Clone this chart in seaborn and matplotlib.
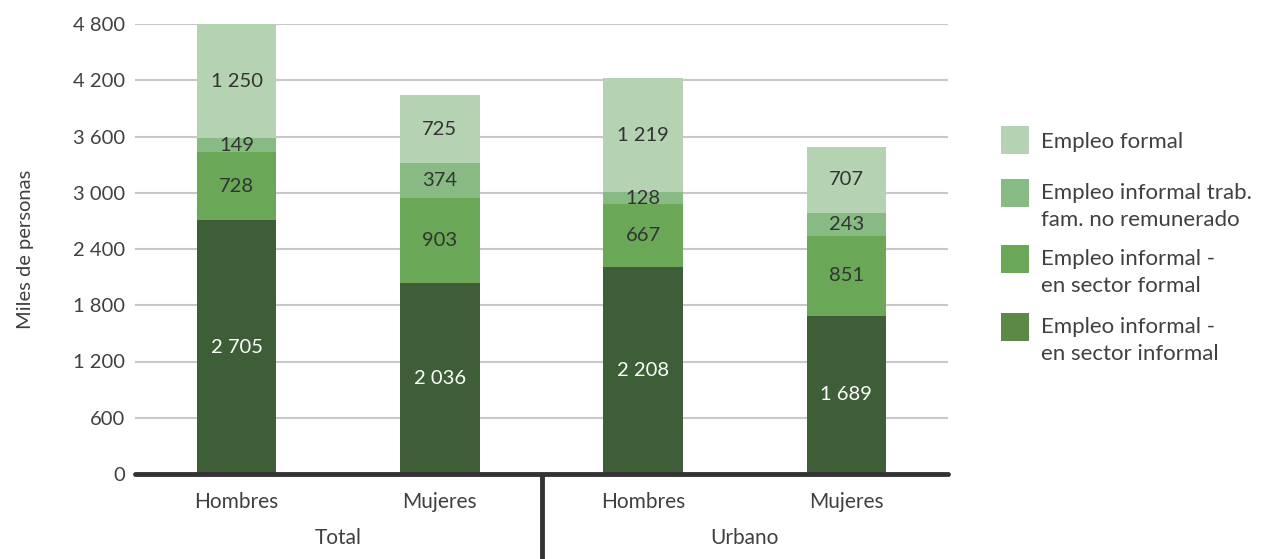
import matplotlib
matplotlib.use("Agg")
import matplotlib.pyplot as plt
from matplotlib.patches import Rectangle
import matplotlib.transforms as mtransforms
import numpy as np
import pandas as pd
import seaborn as sns

# Data (miles de personas)
categorias = ["Hombres", "Mujeres", "Hombres ", "Mujeres "]
ejes_x = ["Hombres", "Mujeres", "Hombres", "Mujeres"]
grupos = ["Total", "Urbano"]
informal_sector_informal = [2705, 2036, 2208, 1689]
informal_sector_formal = [728, 903, 667, 851]
informal_trab_fam = [149, 374, 128, 243]
empleo_formal = [1250, 725, 1219, 707]

series_nombres = [
    ["Empleo informal -", "en sector informal"],
    ["Empleo informal -", "en sector formal"],
    ["Empleo informal trab.", "fam. no remunerado"],
    ["Empleo formal"],
]
series_valores = [informal_sector_informal, informal_sector_formal,
                  informal_trab_fam, empleo_formal]
bar_colores = ["#3e5e38", "#6aa757", "#88bb84", "#b5d2b3"]
leyenda_colores = ["#5a8a46", "#6aa757", "#88bb84", "#b5d2b3"]
label_colores = ["white", "#333333", "#333333", "#333333"]

yticks = [0, 600, 1200, 1800, 2400, 3000, 3600, 4200, 4800]
ymax = 4800

sns.set_theme(style="white")
plt.rcParams["font.family"] = ["Lato", "DejaVu Sans"]
text_color = "#404040"
fs = 14.5

fig = plt.figure(figsize=(12.61, 5.59), dpi=100)
W, H = 1261, 559
ax = fig.add_axes([135 / W, (H - 474) / H, (948 - 135) / W, 450 / H])

# cumulative stacks, drawn from tallest to shortest
cum = np.cumsum(np.array(series_valores), axis=0)
df = pd.DataFrame({"cat": categorias})
for i in range(len(series_valores) - 1, -1, -1):
    df["v"] = cum[i]
    sns.barplot(data=df, x="cat", y="v", color=bar_colores[i], width=0.39,
                saturation=1, ax=ax, zorder=2, linewidth=0)

# segment labels
bottoms = np.vstack([np.zeros(4), cum[:-1]])
for i, vals in enumerate(series_valores):
    for j, v in enumerate(vals):
        lo = bottoms[i][j]
        hi = min(cum[i][j], ymax)
        yc = (lo + hi) / 2
        txt = f"{v:,}".replace(",", " ")
        ax.text(j, yc, txt, ha="center", va="center", fontsize=fs,
                color=label_colores[i], zorder=3)

ax.set_ylim(0, ymax)
ax.set_xlim(-0.5, 3.5)
ax.set_yticks(yticks)
ax.set_yticklabels([f"{t:,}".replace(",", " ") for t in yticks])
ax.set_xticks(range(4))
ax.set_xticklabels(ejes_x)
ax.tick_params(axis="both", length=0, labelsize=fs, colors=text_color)
ax.tick_params(axis="x", labelsize=fs + 0.5, pad=13)
ax.tick_params(axis="y", pad=7)
ax.set_xlabel("")
ax.set_ylabel("Miles de personas", fontsize=fs, color=text_color, labelpad=28)

ax.yaxis.grid(True, color="#c8c8c8", linewidth=1.5, zorder=0)
ax.set_axisbelow(True)
for s in ["top", "right", "left"]:
    ax.spines[s].set_visible(False)
ax.spines["bottom"].set_color("#333333")
ax.spines["bottom"].set_linewidth(3.5)
ax.spines["bottom"].set_zorder(4)
ax.spines["bottom"].set_capstyle("round")

# group separator and group labels
trans = mtransforms.blended_transform_factory(ax.transData, ax.transAxes)
ax.plot([1.5, 1.5], [0, -0.2], color="#333333", linewidth=3.5,
        transform=trans, clip_on=False, zorder=4, solid_capstyle="butt")
for k, g in enumerate(grupos):
    ax.text(0.5 + 2 * k, -64 / 450, g, transform=trans, ha="center",
            va="center", fontsize=fs + 0.5, color=text_color)

# legend: swatch plus label lines, top entry first
sw_top = [126, 179, 245, 313]
line_gap = 27
for k, i in enumerate(range(3, -1, -1)):
    top = sw_top[k]
    fig.patches.append(Rectangle((1001 / W, (H - top - 28) / H), 28 / W, 28 / H,
                                 transform=fig.transFigure,
                                 facecolor=leyenda_colores[i], edgecolor="none"))
    y0 = top + 14 + (2 if k == 0 else 0)
    for n, line in enumerate(series_nombres[i]):
        fig.text(1041 / W, (H - (y0 + n * line_gap)) / H, line, ha="left",
                 va="center", fontsize=fs + 1.5, color=text_color)

fig.savefig("out.png", dpi=100)
